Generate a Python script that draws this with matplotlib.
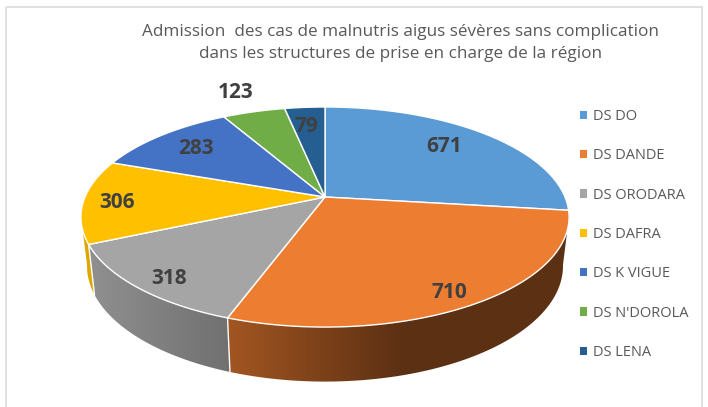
#!/usr/bin/env python3
# -*- coding: utf-8 -*-
import numpy as np
import matplotlib
matplotlib.use('Agg')
import matplotlib.pyplot as plt
from matplotlib.patches import Patch, Polygon, Rectangle

categories = ['DS DO', 'DS DANDE', 'DS ORODARA', 'DS DAFRA', 'DS K VIGUE', "DS N'DOROLA", 'DS LENA']
values = [671, 710, 318, 306, 283, 123, 79]
colors = ['#5B9BD5', '#ED7D31', '#A5A5A5', '#FFC000', '#4472C4', '#70AD47', '#255E91']

title = "Admission  des cas de malnutris aigus sévères sans complication\ndans les structures de prise en charge de la région"
font = 'Open Sans'

# geometry of the tilted pie, in pixels
CX, CY = 325, 197
RX, RY = 240, 106.4
K = 0.182            # perspective strength
DEPTH = 48
BOT_SX, BOT_SY = 0.975, 1.05
SIDE_LIMIT = 100     # degrees from the top where the rim becomes visible

# label anchors per slice (pixels)
label_pos = [(444, 147), (449, 292), (169, 278), (117, 203), (196, 149), (236, 93), (306, 126)]


def project(deg, bottom=False):
    t = np.radians(deg)
    X, Y = np.sin(t), -np.cos(t)
    w = 1 - K * Y
    if bottom:
        return CX + BOT_SX * RX * X / w, CY + DEPTH + BOT_SY * RY * Y / w
    return CX + RX * X / w, CY + RY * Y / w


def shade(color, x):
    # rim goes darker from left to right
    f = np.interp(x, [90, 230, 400], [0.87, 0.68, 0.39])
    return np.outer(f, matplotlib.colors.to_rgb(color))


fig = plt.figure(figsize=(7.08, 4.07), dpi=100)
ax = fig.add_axes([0, 0, 1, 1])
ax.axis('off')

# frame of the pasted picture
ax.add_patch(Rectangle((5.5, 6.5), 696.5, 420, fill=False, edgecolor='#E0E0E0', linewidth=1.4))

edges = np.concatenate([[0], np.cumsum(values)]) / sum(values) * 360

# rim first, a horizontal gradient clipped to each slice
grad_x = np.arange(0, 709)
for i, col in enumerate(colors):
    a0, a1 = max(edges[i], SIDE_LIMIT), min(edges[i + 1], 360 - SIDE_LIMIT)
    if a1 <= a0:
        continue
    ang = np.linspace(a0, a1, 100)
    xt, yt = project(ang)
    xb, yb = project(ang[::-1], bottom=True)
    rim = Polygon(list(zip(xt, yt)) + list(zip(xb, yb)), closed=True, facecolor='none',
                  edgecolor='none', transform=ax.transData)
    ax.add_patch(rim)
    im = ax.imshow(shade(col, grad_x)[np.newaxis, :, :], extent=(0, 708, 407, 0),
                   aspect='auto', interpolation='bilinear', zorder=2)
    im.set_clip_path(rim)
    # white seam where a slice ends on the rim
    if edges[i + 1] < 360 - SIDE_LIMIT:
        x0, y0 = project(edges[i + 1])
        x1, y1 = project(edges[i + 1], bottom=True)
        ax.plot([x0, x1], [y0, y1], color='white', linewidth=1, zorder=3)

ax.set_xlim(0, 708)
ax.set_ylim(407, 0)

# top face
for i, col in enumerate(colors):
    ang = np.linspace(edges[i], edges[i + 1], 120)
    xs, ys = project(ang)
    pts = [(CX, CY)] + list(zip(xs, ys))
    ax.add_patch(Polygon(pts, closed=True, facecolor=col, edgecolor='white',
                         linewidth=1, joinstyle='round', zorder=4))

for val, (lx, ly) in zip(values, label_pos):
    ax.text(lx, ly, str(val), ha='center', va='center', family=font, fontsize=15,
            fontweight='bold', color='#404040', zorder=5)

ax.text(401, 42.5, title, ha='center', va='center', family=font, fontsize=12.3,
        color='#595959', linespacing=1.5)

handles = [Patch(facecolor=c, edgecolor='none') for c in colors]
leg = ax.legend(handles, categories, loc='upper left', bbox_to_anchor=(580 / 708, 1 - 109 / 407),
                frameon=False, labelcolor='#595959', prop={'family': font, 'size': 10.55},
                handlelength=0.5, handleheight=0.5, handletextpad=0.42, labelspacing=1.66,
                borderaxespad=0, borderpad=0)

fig.savefig('out.png', dpi=100, facecolor='white')
